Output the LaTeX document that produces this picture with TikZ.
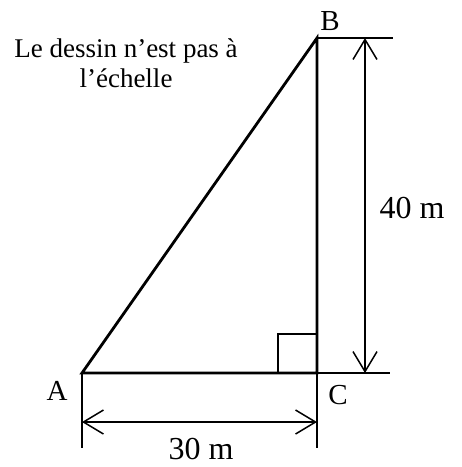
\documentclass[tikz,border=0pt]{standalone}
\usepackage{fontspec}
\setmainfont{Liberation Serif}
\usetikzlibrary{arrows.meta}

\begin{document}
\begin{tikzpicture}[x=1pt,y=-1pt,>={Straight Barb[length=20pt,width=24pt]},
    side/.style={line width=2.8pt,line join=miter},
    dim/.style={line width=1.5pt},
    pt/.style={font=\fontsize{29}{34}\selectfont},
    meas/.style={font=\fontsize{32}{38}\selectfont}]
  \useasboundingbox (0,0) rectangle (462,467);
  % triangle
  \coordinate (A) at (82,373);
  \coordinate (B) at (317,38);
  \coordinate (C) at (317,373);
  \draw[side] (A) -- (B) -- (C) -- cycle;
  \draw[dim] (278,373) |- (317,334);
  % extension lines
  \coordinate (Bx) at (393,38);
  \coordinate (Cx) at (390,373);
  \coordinate (Ay) at (82,448);
  \coordinate (Cy) at (317,448);
  \draw[dim] (B) -- (Bx);
  \draw[dim] (C) -- (Cx);
  \draw[dim] (A) -- (Ay);
  \draw[dim] (C) -- (Cy);
  % dimension arrows
  \coordinate (v1) at (365,38);
  \coordinate (v2) at (365,373);
  \coordinate (h1) at (82,422);
  \coordinate (h2) at (317,422);
  \draw[dim,<->] (v1) -- (v2);
  \draw[dim,<->] (h1) -- (h2);
  \node[meas] (l40) at (412,208) {40 m};
  \node[meas] (l30) at (201,449) {30 m};
  % vertex names
  \node[pt] (nA) at (57,391) {A};
  \node[pt] (nB) at (330,21) {B};
  \node[pt] (nC) at (338,395) {C};
  \node[font=\fontsize{27}{30}\selectfont,align=center] (note) at (126,63) {Le dessin n’est pas à\\l’échelle};
\end{tikzpicture}
\end{document}
